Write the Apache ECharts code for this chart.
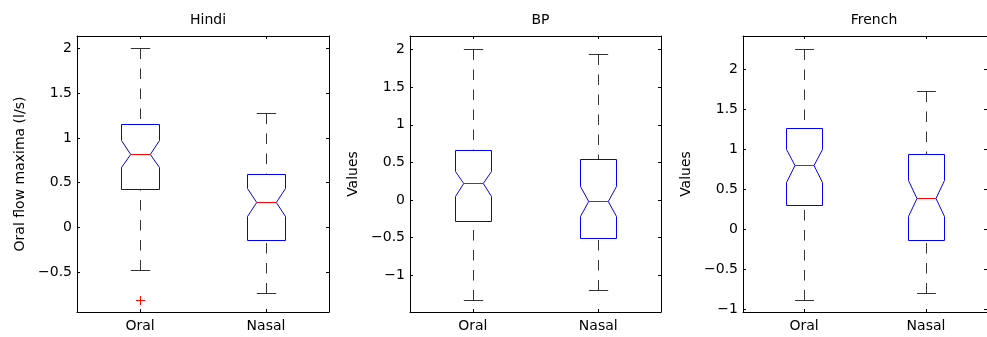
<!DOCTYPE html>
<html>
<head>
<meta charset="utf-8">
<script src="https://cdn.jsdelivr.net/npm/echarts@6/dist/echarts.min.js"></script>
<style>
  html, body { margin: 0; padding: 0; background: #fff; }
  #chart { width: 987px; height: 337px; }
</style>
</head>
<body>
<div id="chart"></div>
<script>
// Groups on the x axis
const categories = ['Oral', 'Nasal'];

// Per group: [lower whisker, Q1, notch low, median, notch high, Q3, upper whisker]
const hindiStats = [
  [-0.474, 0.430, 0.670, 0.825, 0.972, 1.150, 2.005],
  [-0.739, -0.141, 0.131, 0.285, 0.442, 0.599, 1.279]
];
const bpStats = [
  [-1.325, -0.281, 0.047, 0.225, 0.385, 0.664, 2.013],
  [-1.200, -0.507, -0.214, -0.011, 0.185, 0.545, 1.943]
];
const frenchStats = [
  [-0.875, 0.305, 0.593, 0.800, 1.000, 1.268, 2.259],
  [-0.788, -0.129, 0.175, 0.396, 0.621, 0.938, 1.730]
];

// Outliers: [group index, value]
const hindiOutliers = [[0, -0.811]];
const bpOutliers = [];
const frenchOutliers = [];

// Tick labels on the value axes
const hindiTicks = [-0.5, 0, 0.5, 1, 1.5, 2];
const bpTicks = [-1, -0.5, 0, 0.5, 1, 1.5, 2];
const frenchTicks = [-1, -0.5, 0, 0.5, 1, 1.5, 2];

const panelTitles = ['Hindi', 'BP', 'French'];
const yNames = ['Oral flow maxima (l/s)', 'Values', 'Values'];
const yRanges = [[-0.948, 2.14], [-1.489, 2.18], [-1.029, 2.415]];

const FONT = '"DejaVu Sans", "Liberation Sans", Arial, sans-serif';
const FS = 14;
const grids = [
  { left: 77, top: 36, width: 252, height: 276 },
  { left: 410, top: 36, width: 251, height: 276 },
  { left: 743, top: 36, width: 252, height: 276 }
];

const statsList = [hindiStats, bpStats, frenchStats];
const outlierList = [hindiOutliers, bpOutliers, frenchOutliers];
const tickList = [hindiTicks, bpTicks, frenchTicks];

const fmt = v => String(v).replace('-', '\u2212');

function renderBox(params, api) {
  const idx = api.value(0);
  const v = k => api.coord([idx, api.value(k)]);
  const band = api.size([1, 0])[0];
  const cx = Math.round(v(1)[0]) + 0.5;
  const hw = band * 0.151;
  const nw = band * 0.078;
  const cw = band * 0.077;
  const y = k => Math.round(v(k)[1]) + 0.5;
  const lw = y(1), q1 = y(2), nlo = y(3), med = y(4), nhi = y(5), q3 = y(6), uw = y(7);
  const x0 = Math.round(cx - hw) + 0.5, x1 = Math.round(cx + hw) - 0.5;
  const xn0 = cx - nw, xn1 = cx + nw;
  const whisker = { stroke: '#333', lineWidth: 1, lineDash: [10.5, 9.5] };
  const cap = { stroke: '#333', lineWidth: 1 };
  return {
    type: 'group',
    children: [
      { type: 'line', shape: { x1: cx, y1: uw, x2: cx, y2: q3 }, style: whisker },
      { type: 'line', shape: { x1: cx, y1: lw, x2: cx, y2: q1 }, style: whisker },
      { type: 'line', shape: { x1: cx - cw, y1: uw, x2: cx + cw, y2: uw }, style: cap },
      { type: 'line', shape: { x1: cx - cw, y1: lw, x2: cx + cw, y2: lw }, style: cap },
      {
        type: 'polygon',
        shape: { points: [
          [x0, q3], [x1, q3], [x1, nhi], [xn1, med], [x1, nlo], [x1, q1],
          [x0, q1], [x0, nlo], [xn0, med], [x0, nhi]
        ] },
        style: { fill: 'none', stroke: '#0000ff', lineWidth: 1 }
      },
      { type: 'line', shape: { x1: xn0, y1: med, x2: xn1, y2: med }, style: { stroke: '#ff0000', lineWidth: 1 } }
    ]
  };
}

function renderOutlier(params, api) {
  const p = api.coord([api.value(0), api.value(1)]);
  const x = Math.round(p[0]) + 0.5, y = Math.round(p[1]) + 0.5;
  const s = 4.5;
  const st = { stroke: '#ff0000', lineWidth: 1 };
  return {
    type: 'group',
    children: [
      { type: 'line', shape: { x1: x - s, y1: y, x2: x + s, y2: y }, style: st },
      { type: 'line', shape: { x1: x, y1: y - s, x2: x, y2: y + s }, style: st }
    ]
  };
}

const option = {
  animation: false,
  textStyle: { fontFamily: FONT },
  title: panelTitles.map((t, i) => ({
    text: t,
    left: grids[i].left + grids[i].width / 2,
    top: 8,
    textAlign: 'center',
    textStyle: { fontFamily: FONT, fontSize: FS, fontWeight: 'normal', color: '#000' }
  })),
  grid: grids.map(g => Object.assign({ containLabel: false }, g)),
  xAxis: [],
  yAxis: [],
  series: []
};

for (let i = 0; i < 3; i++) {
  const axisLine = { show: true, onZero: false, lineStyle: { color: '#000', width: 1 } };
  const tick = { show: true, inside: true, length: 3, lineStyle: { color: '#000' } };
  // bottom axis with group labels
  option.xAxis.push({
    type: 'category', gridIndex: i, data: categories, position: 'bottom',
    boundaryGap: true, axisLine,
    axisTick: Object.assign({ alignWithLabel: true }, tick),
    axisLabel: { color: '#000', fontSize: FS, margin: 7, fontFamily: FONT },
    splitLine: { show: false }
  });
  // top edge of the frame
  option.xAxis.push({
    type: 'category', gridIndex: i, data: categories, position: 'top',
    boundaryGap: true, axisLine,
    axisTick: Object.assign({ alignWithLabel: true }, tick),
    axisLabel: { show: false }, splitLine: { show: false }
  });
  const [mn, mx] = yRanges[i];
  option.yAxis.push({
    type: 'value', gridIndex: i, position: 'left', min: mn, max: mx,
    name: yNames[i], nameLocation: 'middle', nameGap: 50,
    nameTextStyle: { color: '#000', fontSize: FS, fontFamily: FONT },
    axisLine,
    axisTick: Object.assign({ customValues: tickList[i] }, tick),
    axisLabel: { color: '#000', fontSize: FS, margin: 5, fontFamily: FONT, customValues: tickList[i], formatter: fmt },
    splitLine: { show: false }
  });
  // right edge of the frame
  option.yAxis.push({
    type: 'value', gridIndex: i, position: 'right', min: mn, max: mx,
    axisLine,
    axisTick: Object.assign({ customValues: tickList[i] }, tick),
    axisLabel: { show: false }, splitLine: { show: false }
  });
  option.series.push({
    type: 'custom', xAxisIndex: i * 2, yAxisIndex: i * 2,
    renderItem: renderBox,
    encode: { x: 0, y: [1, 2, 3, 4, 5, 6, 7] },
    data: statsList[i].map((s, k) => [k].concat(s)),
    silent: true
  });
  option.series.push({
    type: 'custom', xAxisIndex: i * 2, yAxisIndex: i * 2,
    renderItem: renderOutlier,
    encode: { x: 0, y: 1 },
    data: outlierList[i],
    silent: true
  });
}

const chart = echarts.init(document.getElementById('chart'), null, { renderer: 'canvas' });
chart.setOption(option);
</script>
</body>
</html>
